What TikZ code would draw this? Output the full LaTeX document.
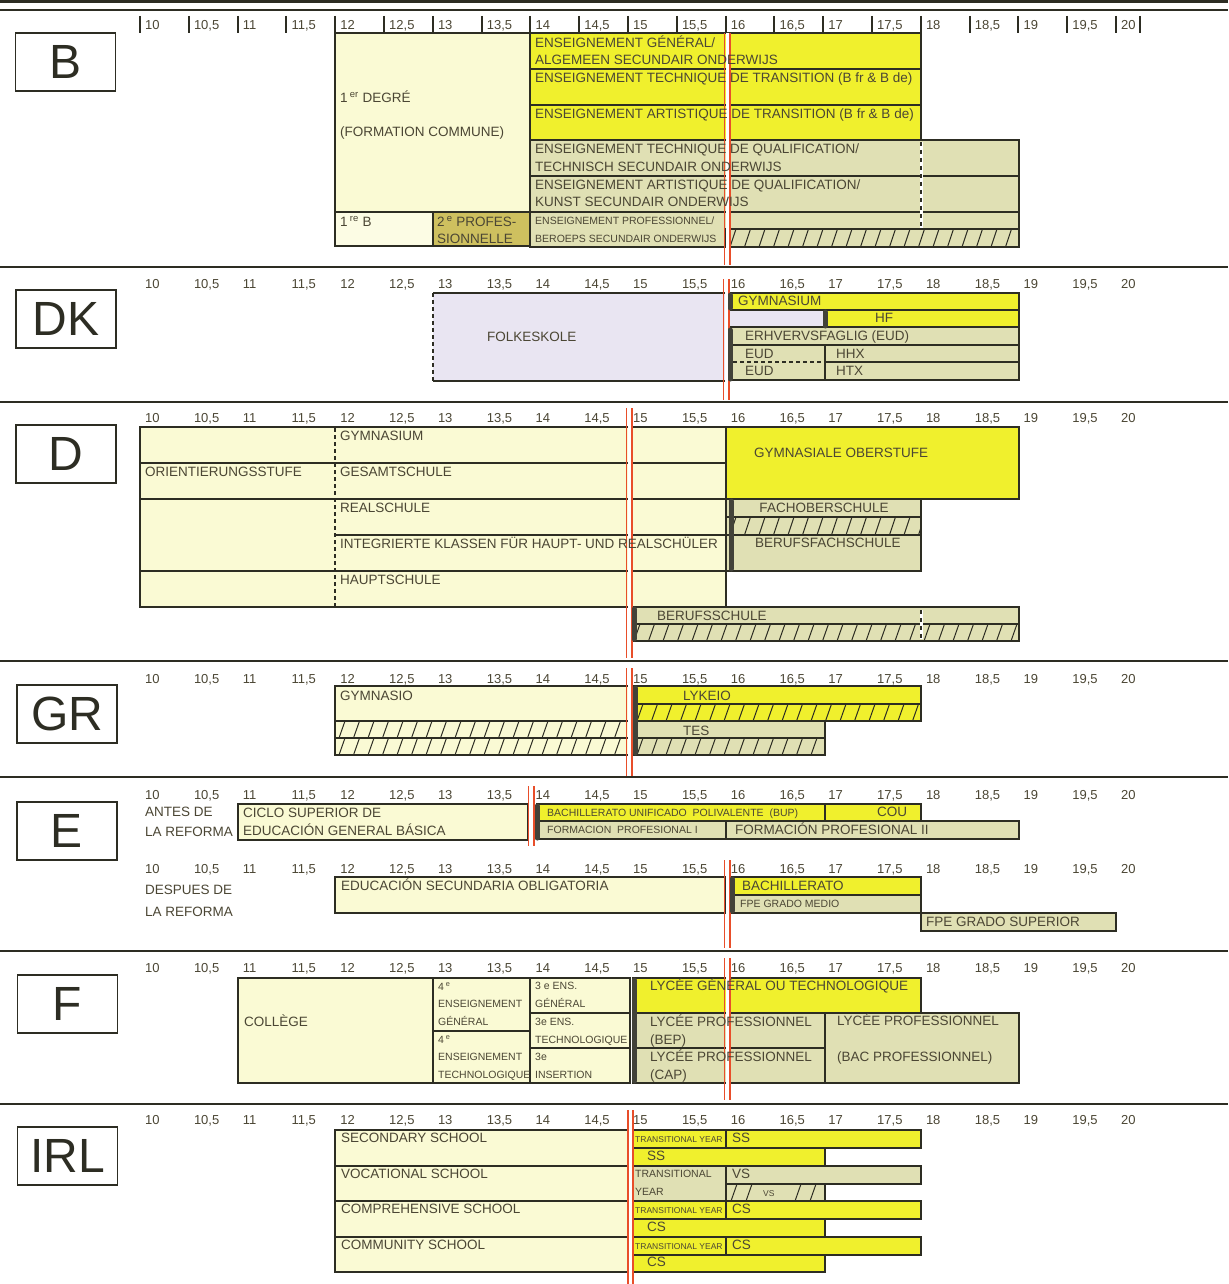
\documentclass[tikz,border=0pt]{standalone}
\usepackage{fontspec}
\setmainfont{Liberation Sans}
\newcommand\fsz[1]{\fontsize{#1}{#1}\selectfont}
\definecolor{yel}{RGB}{240,240,45}
\definecolor{crm}{RGB}{250,250,212}
\definecolor{crl}{RGB}{252,252,228}
\definecolor{kha}{RGB}{224,224,180}
\definecolor{olv}{RGB}{206,192,95}
\definecolor{lav}{RGB}{233,229,242}
\definecolor{bord}{RGB}{45,45,35}
\definecolor{txt}{RGB}{75,70,52}
\definecolor{redl}{RGB}{232,78,42}
\newcommand\bx[5]{\path[fill=#1,draw=bord,line width=1.5pt] (#2,#3) rectangle (#4,#5);}
\newcommand\hatchbox[5]{%
  \path[fill=#1,draw=bord,line width=1.5pt] (#2,#3) rectangle (#4,#5);
  \begin{scope}
    \clip (#2,#3) rectangle (#4,#5);
    \foreach \k in {0,...,30}{\draw[bord,line width=1pt] ({#2+\k*14.5+4},#5) -- ({#2+\k*14.5+10},#3);}
  \end{scope}}
\newcommand\redl[3]{\draw[white,line width=3pt] (#1,#2) -- (#1,#3); \draw[rl] ({#1-2.6},#2) -- ({#1-2.6},#3); \draw[rl] ({#1+2.6},#2) -- ({#1+2.6},#3);}
\newcommand\ticks[1]{%
  \foreach \a/\s [count=\i] in {0/10,0.5/{10,5},1/11,1.5/{11,5},2/12,2.5/{12,5},3/13,3.5/{13,5},4/14,4.5/{14,5},5/15,5.5/{15,5},6/16,6.5/{16,5},7/17,7.5/{17,5},8/18,8.5/{18,5},9/19,9.5/{19,5},10/20}{%
    \node[tick] (tk#1-\i) at ({140+97.6*\a+5},#1) {\s};}}
\newcommand\wdots[3]{\draw[white,line width=3pt] (#1,#2) -- (#1,#3); \draw[bord,line width=1.5pt,dash pattern=on 4pt off 4pt] (#1,#2) -- (#1,#3);}
\begin{document}
\begin{tikzpicture}[x=1pt,y=-1pt,
  lab/.style={anchor=base west, inner sep=0pt, text=txt, font=\fsz{13.5}, yshift=-4.9pt},
  clab/.style={anchor=base, inner sep=0pt, text=txt, font=\fsz{13.5}, yshift=-4.9pt},
  sml/.style={anchor=base west, inner sep=0pt, text=txt, font=\fsz{10.5}, yshift=-3.8pt},
  tny/.style={anchor=base west, inner sep=0pt, text=txt, font=\fsz{8.5}, yshift=-3.1pt},
  tick/.style={anchor=base west, inner sep=0pt, text=txt, font=\fsz{13}, yshift=-4.6pt},
  thk/.style={draw=bord!90, line width=5pt, line cap=round},
  rl/.style={draw=redl, line width=1.8pt},
  sep/.style={draw=bord, line width=1.8pt},
  ln/.style={draw=bord, line width=1.5pt},
  dsh/.style={draw=bord, line width=1.5pt, dash pattern=on 4pt off 3pt},
  ctry/.style={draw=bord, line width=1.5pt, minimum width=100pt, minimum height=58pt, inner sep=0pt, font=\fsz{48}, text=bord}]
\useasboundingbox[fill=white] (0,0) rectangle (1228,1284);
% separators
\draw[bord,line width=3pt] (0,2) -- (1228,2);
\draw[bord,line width=1.5pt] (0,10) -- (1228,10);
\foreach \yy in {267,402,661,777,951,1104}{\draw[sep] (0,\yy) -- (1228,\yy);}
% country boxes
\node[ctry] (cB) at (65.5,62) {B};
\node[ctry] (cDK) at (66,319) {DK};
\node[ctry] (cD) at (66,454) {D};
\node[ctry] (cGR) at (67,714) {GR};
\node[ctry] (cE) at (67,831) {E};
\node[ctry] (cF) at (67.5,1004) {F};
\node[ctry] (cIRL) at (67.5,1156) {IRL};
% ticks
\ticks{25}
\foreach \a in {0,0.5,...,10}{\draw[bord,line width=2pt] ({140+97.6*\a},16) -- ({140+97.6*\a},33);}
\draw[bord,line width=2pt] (1140,16) -- (1140,33);
\ticks{284}\ticks{418}\ticks{679}\ticks{795}\ticks{869}\ticks{968}\ticks{1120}
% ================= B
\bx{crm}{335}{33}{530}{212}
\bx{crl}{335}{212}{433}{246}
\bx{olv}{433}{212}{530}{246}
\bx{yel}{530}{33}{921}{69}
\bx{yel}{530}{69}{921}{105}
\bx{yel}{530}{105}{921}{140}
\bx{kha}{530}{140}{1019}{176}
\bx{kha}{530}{176}{1019}{212}
\bx{kha}{530}{212}{1019}{247}
\hatchbox{kha}{726}{229}{1019}{247}
\wdots{921}{142}{228}
\redl{727}{33}{265}
% ================= DK
\path[fill=lav] (433,293) rectangle (726,381);
\draw[ln] (433,293) -- (726,293) -- (726,381) -- (433,381);
\draw[dsh] (433,293) -- (433,381);
\bx{yel}{726}{293}{1019}{310}
\bx{lav}{726}{310}{825}{327}
\bx{yel}{825}{310}{1019}{327}
\bx{kha}{726}{327}{1019}{345}
\bx{kha}{726}{345}{1019}{380}
\draw[ln] (825,345) -- (825,380);
\draw[ln] (825,362) -- (1019,362);
\draw[dsh] (726,362) -- (825,362);
\redl{726}{279}{400}
\draw[thk] (730,295) -- (730,308);
\draw[thk] (730,330) -- (730,379);
\draw[thk] (825,312) -- (825,326);
% ================= D
\path[fill=crm,draw=bord,line width=1.5pt] (140,427) rectangle (726,607);
\draw[ln] (140,463) -- (726,463);
\draw[ln] (140,499) -- (726,499);
\draw[ln] (335,535) -- (726,535);
\draw[ln] (140,571) -- (726,571);
\draw[dsh] (335,428) -- (335,606);
\bx{yel}{726}{427}{1019}{499}
\bx{kha}{726}{499}{921}{517}
\hatchbox{kha}{726}{517}{921}{535}
\bx{kha}{726}{535}{921}{571}
\draw[thk] (731,501) -- (731,569);
\bx{kha}{630}{607}{1019}{624}
\hatchbox{kha}{630}{624}{1019}{641}
\wdots{921}{610}{639}
\redl{629}{408}{658}
\draw[thk] (634,609) -- (634,639);
% ================= GR
\bx{crm}{335}{686}{630}{721}
\hatchbox{crm}{335}{721}{630}{738}
\hatchbox{crm}{335}{738}{630}{755}
\bx{yel}{633}{686}{921}{704}
\hatchbox{yel}{633}{704}{921}{721}
\bx{kha}{633}{721}{825}{738}
\hatchbox{kha}{633}{738}{825}{755}
\redl{629}{668}{776}
\draw[thk] (635,688) -- (635,753);
% ================= E
\bx{crm}{238}{804}{528}{840}
\bx{yel}{537}{804}{825}{821}
\bx{yel}{825}{804}{921}{821}
\bx{kha}{537}{821}{726}{839}
\bx{kha}{726}{821}{1019}{839}
\redl{531}{786}{846}
\draw[thk] (537,806) -- (537,838);
\bx{crm}{335}{877}{726}{913}
\bx{yel}{730}{877}{921}{895}
\bx{kha}{730}{895}{921}{913}
\bx{kha}{921}{913}{1116}{931}
\redl{727}{860}{948}
\draw[thk] (732,879) -- (732,911);
% ================= F
\bx{crm}{238}{978}{433}{1083}
\bx{crm}{433}{978}{530}{1031}
\bx{crm}{433}{1031}{530}{1083}
\bx{crm}{530}{978}{630}{1013}
\bx{crm}{530}{1013}{630}{1048}
\bx{crm}{530}{1048}{630}{1083}
\bx{yel}{633}{978}{921}{1013}
\bx{kha}{633}{1013}{825}{1048}
\bx{kha}{633}{1048}{825}{1083}
\bx{kha}{825}{1013}{1019}{1083}
\draw[thk] (634,980) -- (634,1081);
\redl{727}{958}{1100}
% ================= IRL
\bx{crm}{335}{1130}{628}{1166}
\bx{crm}{335}{1166}{628}{1201}
\bx{crm}{335}{1201}{628}{1237}
\bx{crm}{335}{1237}{628}{1272}
\bx{yel}{633}{1130}{726}{1148}
\bx{yel}{726}{1130}{921}{1148}
\bx{yel}{633}{1148}{825}{1166}
\bx{kha}{633}{1166}{726}{1201}
\bx{kha}{726}{1166}{921}{1184}
\begin{scope}
\path[fill=kha,draw=bord,line width=1.5pt] (726,1184) rectangle (825,1201);
\clip (726,1184) rectangle (825,1201);
\foreach \hx in {731,746,795,810}{\draw[bord,line width=1pt] (\hx,1201) -- ({\hx+6},1184);}
\end{scope}
\bx{yel}{633}{1201}{726}{1219}
\bx{yel}{726}{1201}{921}{1219}
\bx{yel}{633}{1219}{825}{1237}
\bx{yel}{633}{1237}{726}{1255}
\bx{yel}{726}{1237}{921}{1255}
\bx{yel}{633}{1255}{825}{1272}
\redl{630.5}{1110}{1284}
% ================= TEXT B
\node[lab] (b1) at (340,98) {1\,\textsuperscript{er} DEGRÉ};
\node[lab] (b2) at (340,132) {(FORMATION COMMUNE)};
\node[lab] (b3) at (340,222) {1\,\textsuperscript{re} B};
\node[lab] (b4) at (437,222) {2\,\textsuperscript{e} PROFES-};
\node[lab] (b5) at (437,239) {SIONNELLE};
\node[lab] (b6) at (535,43) {ENSEIGNEMENT GÉNÉRAL/};
\node[lab] (b7) at (535,60) {ALGEMEEN SECUNDAIR ONDERWIJS};
\node[lab] (b8) at (535,78) {ENSEIGNEMENT TECHNIQUE DE TRANSITION (B fr \& B de)};
\node[lab] (b9) at (535,114) {ENSEIGNEMENT ARTISTIQUE DE TRANSITION (B fr \& B de)};
\node[lab] (b10) at (535,149) {ENSEIGNEMENT TECHNIQUE DE QUALIFICATION/};
\node[lab] (b11) at (535,167) {TECHNISCH SECUNDAIR ONDERWIJS};
\node[lab] (b12) at (535,185) {ENSEIGNEMENT ARTISTIQUE DE QUALIFICATION/};
\node[lab] (b13) at (535,202) {KUNST SECUNDAIR ONDERWIJS};
\node[sml] (b14) at (535,221) {ENSEIGNEMENT PROFESSIONNEL/};
\node[sml] (b15) at (535,239) {BEROEPS SECUNDAIR ONDERWIJS};
% TEXT DK
\node[lab] (dk1) at (487,337) {FOLKESKOLE};
\node[lab] (dk2) at (738,301) {GYMNASIUM};
\node[clab] (dk3) at (884,318) {HF};
\node[lab] (dk4) at (745,336) {ERHVERVSFAGLIG (EUD)};
\node[lab] (dk5) at (745,354) {EUD};
\node[lab] (dk6) at (836,354) {HHX};
\node[lab] (dk7) at (745,371) {EUD};
\node[lab] (dk8) at (836,371) {HTX};
% TEXT D
\node[lab] (d1) at (340,436) {GYMNASIUM};
\node[lab] (d2) at (145,472) {ORIENTIERUNGSSTUFE};
\node[lab] (d3) at (340,472) {GESAMTSCHULE};
\node[lab] (d4) at (340,508) {REALSCHULE};
\node[lab] (d5) at (340,544) {INTEGRIERTE KLASSEN FÜR HAUPT- UND REALSCHÜLER};
\node[lab] (d6) at (340,580) {HAUPTSCHULE};
\node[lab] (d7) at (754,453) {GYMNASIALE OBERSTUFE};
\node[clab] (d8) at (824,508) {FACHOBERSCHULE};
\node[lab] (d9) at (755,543) {BERUFSFACHSCHULE};
\node[lab] (d10) at (657,616) {BERUFSSCHULE};
% TEXT GR
\node[lab] (g1) at (340,696) {GYMNASIO};
\node[lab] (g2) at (683,696) {LYKEIO};
\node[lab] (g3) at (683,731) {TES};
% TEXT E
\node[lab] (e1) at (145,812) {ANTES DE};
\node[lab] (e2) at (145,832) {LA REFORMA};
\node[lab] (e3) at (243,813) {CICLO SUPERIOR DE};
\node[lab] (e4) at (243,831) {EDUCACIÓN GENERAL BÁSICA};
\node[sml] (e5) at (547,813) {BACHILLERATO UNIFICADO\ \ POLIVALENTE\ \ (BUP)};
\node[clab] (e6) at (892,812) {COU};
\node[sml] (e7) at (547,830) {FORMACION\ \ PROFESIONAL I};
\node[lab] (e8) at (735,830) {FORMACIÓN PROFESIONAL II};
\node[lab] (e9) at (145,890) {DESPUES DE};
\node[lab] (e10) at (145,912) {LA REFORMA};
\node[lab] (e11) at (341,886) {EDUCACIÓN SECUNDARIA OBLIGATORIA};
\node[lab] (e12) at (742,886) {BACHILLERATO};
\node[sml] (e13) at (740,904) {FPE GRADO MEDIO};
\node[lab] (e14) at (926,922) {FPE GRADO SUPERIOR};
% TEXT F
\node[lab] (f1) at (244,1022) {COLLÈGE};
\node[sml] (f2) at (438,987) {4\,\textsuperscript{e}};
\node[sml] (f3) at (438,1004) {ENSEIGNEMENT};
\node[sml] (f4) at (438,1022) {GÉNÉRAL};
\node[sml] (f5) at (438,1040) {4\,\textsuperscript{e}};
\node[sml] (f6) at (438,1057) {ENSEIGNEMENT};
\node[sml] (f7) at (438,1075) {TECHNOLOGIQUE};
\node[sml] (f8) at (535,986) {3 e ENS.};
\node[sml] (f9) at (535,1004) {GÉNÉRAL};
\node[sml] (f10) at (535,1022) {3e ENS.};
\node[sml] (f11) at (535,1040) {TECHNOLOGIQUE};
\node[sml] (f12) at (535,1057) {3e};
\node[sml] (f13) at (535,1075) {INSERTION};
\node[lab] (f14) at (650,986) {LYCÉE GÉNÉRAL OU TECHNOLOGIQUE};
\node[lab] (f15) at (650,1022) {LYCÉE PROFESSIONNEL};
\node[lab] (f16) at (650,1040) {(BEP)};
\node[lab] (f17) at (650,1057) {LYCÉE PROFESSIONNEL};
\node[lab] (f18) at (650,1075) {(CAP)};
\node[lab] (f19) at (837,1021) {LYCÉE PROFESSIONNEL};
\node[lab] (f20) at (837,1057) {(BAC PROFESSIONNEL)};
% TEXT IRL
\node[lab] (i1) at (341,1138) {SECONDARY SCHOOL};
\node[lab] (i2) at (341,1174) {VOCATIONAL SCHOOL};
\node[lab] (i3) at (341,1209) {COMPREHENSIVE SCHOOL};
\node[lab] (i4) at (341,1245) {COMMUNITY SCHOOL};
\node[tny] (i5) at (635,1139) {TRANSITIONAL YEAR};
\node[lab] (i6) at (732,1138) {SS};
\node[lab] (i7) at (647,1156) {SS};
\node[sml] (i8) at (635,1174) {TRANSITIONAL};
\node[sml] (i9) at (635,1192) {YEAR};
\node[lab] (i10) at (732,1174) {VS};
\node[tny] (i11) at (763,1193) {VS};
\node[tny] (i12) at (635,1210) {TRANSITIONAL YEAR};
\node[lab] (i13) at (732,1209) {CS};
\node[lab] (i14) at (647,1227) {CS};
\node[tny] (i15) at (635,1246) {TRANSITIONAL YEAR};
\node[lab] (i16) at (732,1245) {CS};
\node[lab] (i17) at (647,1262) {CS};
\end{tikzpicture}
\end{document}
